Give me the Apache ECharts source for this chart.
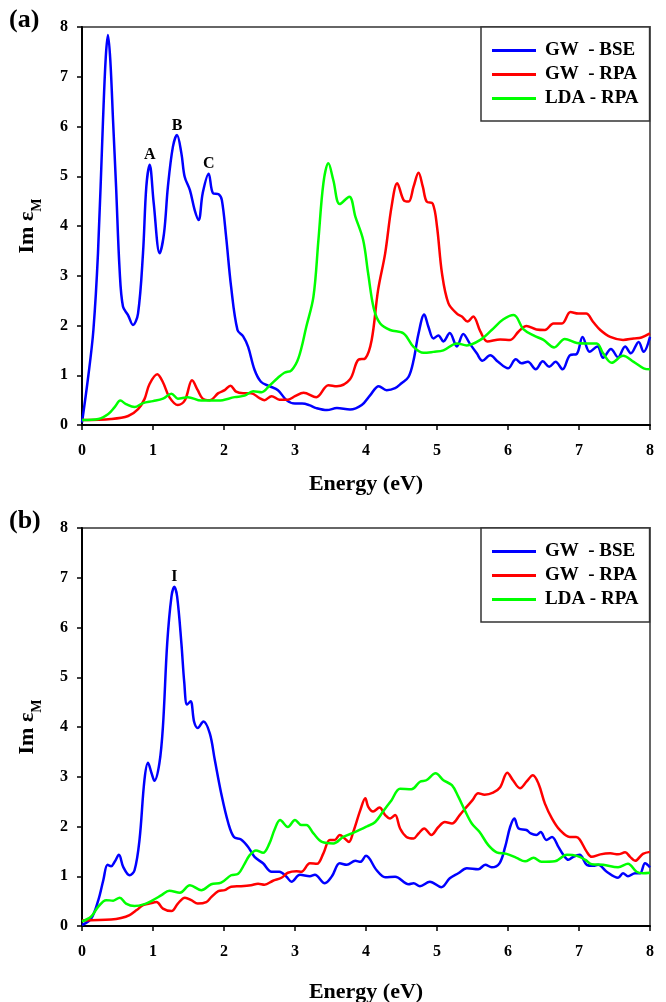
<!DOCTYPE html>
<html>
<head>
<meta charset="utf-8">
<script src="https://cdn.jsdelivr.net/npm/echarts@6/dist/echarts.min.js"></script>
<style>
html,body{margin:0;padding:0;background:#fff;}
#chart{width:666px;height:1002px;}
</style>
</head>
<body>
<div id="chart"></div>
<script>
// ---------- data (Energy in eV, Im eps_M) ----------
const seriesNames = ['GW  - BSE', 'GW  - RPA', 'LDA - RPA'];
const xTicks = [0, 1, 2, 3, 4, 5, 6, 7, 8];
const yTicks = [0, 1, 2, 3, 4, 5, 6, 7, 8];

// panel (a)
const aBse = [[0,0.05],[0.09,1.0],[0.16,1.9],[0.225,3.45],[0.296,6.13],[0.335,7.4],[0.366,7.84],[0.40,7.3],[0.437,6.13],[0.48,4.79],[0.53,3.11],[0.577,2.38],[0.648,2.21],[0.718,2.01],[0.789,2.24],[0.859,3.45],[0.906,4.79],[0.953,5.23],[1.01,4.46],[1.094,3.45],[1.155,3.85],[1.21,4.79],[1.28,5.59],[1.338,5.83],[1.40,5.46],[1.446,4.99],[1.52,4.72],[1.587,4.32],[1.643,4.12],[1.70,4.66],[1.784,5.05],[1.845,4.66],[1.925,4.64],[1.97,4.52],[2.03,3.78],[2.10,2.78],[2.19,1.91],[2.27,1.78],[2.34,1.57],[2.43,1.11],[2.52,0.87],[2.64,0.78],[2.76,0.70],[2.88,0.50],[3.0,0.43],[3.1,0.43],[3.2,0.40],[3.3,0.34],[3.45,0.30],[3.59,0.34],[3.775,0.31],[3.94,0.40],[4.06,0.60],[4.18,0.78],[4.29,0.70],[4.41,0.74],[4.50,0.84],[4.60,0.97],[4.67,1.30],[4.74,1.84],[4.82,2.22],[4.88,1.97],[4.95,1.74],[5.02,1.80],[5.09,1.68],[5.18,1.85],[5.28,1.58],[5.37,1.83],[5.46,1.64],[5.56,1.44],[5.64,1.29],[5.75,1.40],[5.86,1.27],[6.00,1.14],[6.11,1.32],[6.19,1.24],[6.28,1.27],[6.39,1.12],[6.49,1.28],[6.58,1.17],[6.67,1.27],[6.77,1.12],[6.87,1.40],[6.97,1.43],[7.05,1.77],[7.15,1.47],[7.26,1.58],[7.34,1.35],[7.45,1.53],[7.55,1.36],[7.65,1.58],[7.73,1.44],[7.84,1.67],[7.91,1.47],[8.0,1.77]];
const aRpa = [[0,0.1],[0.41,0.12],[0.65,0.18],[0.79,0.32],[0.88,0.52],[0.95,0.82],[1.06,1.02],[1.14,0.86],[1.23,0.56],[1.35,0.40],[1.45,0.50],[1.55,0.90],[1.63,0.70],[1.70,0.53],[1.80,0.50],[1.92,0.64],[2.01,0.70],[2.09,0.79],[2.17,0.67],[2.27,0.64],[2.38,0.64],[2.50,0.54],[2.57,0.50],[2.67,0.58],[2.78,0.51],[2.90,0.51],[3.0,0.58],[3.12,0.65],[3.3,0.56],[3.47,0.80],[3.59,0.78],[3.775,0.92],[3.89,1.31],[3.99,1.34],[4.08,1.71],[4.17,2.71],[4.27,3.45],[4.36,4.39],[4.44,4.86],[4.53,4.52],[4.60,4.49],[4.67,4.79],[4.74,5.07],[4.80,4.79],[4.855,4.49],[4.94,4.45],[5.00,3.99],[5.07,3.05],[5.16,2.45],[5.28,2.24],[5.35,2.18],[5.43,2.08],[5.51,2.18],[5.61,1.88],[5.71,1.68],[5.89,1.72],[6.03,1.71],[6.15,1.88],[6.26,1.99],[6.40,1.92],[6.52,1.91],[6.64,2.04],[6.76,2.04],[6.88,2.27],[6.99,2.24],[7.10,2.24],[7.20,2.07],[7.30,1.91],[7.44,1.77],[7.62,1.71],[7.77,1.74],[7.88,1.76],[8.0,1.84]];
const aLda = [[0,0.1],[0.23,0.12],[0.37,0.22],[0.46,0.36],[0.54,0.49],[0.62,0.42],[0.74,0.36],[0.86,0.44],[1.0,0.48],[1.14,0.53],[1.26,0.63],[1.35,0.53],[1.49,0.56],[1.68,0.49],[1.92,0.49],[2.15,0.56],[2.29,0.59],[2.41,0.68],[2.53,0.66],[2.64,0.79],[2.76,0.95],[2.85,1.05],[2.95,1.10],[3.05,1.35],[3.16,1.98],[3.26,2.58],[3.33,3.72],[3.40,4.86],[3.47,5.26],[3.54,4.92],[3.63,4.44],[3.765,4.59],[3.85,4.19],[3.96,3.72],[4.03,3.05],[4.11,2.34],[4.20,2.04],[4.34,1.91],[4.53,1.84],[4.67,1.57],[4.81,1.45],[4.95,1.47],[5.09,1.50],[5.28,1.64],[5.42,1.60],[5.61,1.71],[5.77,1.91],[5.93,2.12],[6.08,2.21],[6.22,1.92],[6.36,1.80],[6.50,1.71],[6.65,1.56],[6.80,1.73],[6.97,1.65],[7.10,1.64],[7.25,1.64],[7.34,1.44],[7.46,1.25],[7.62,1.39],[7.77,1.27],[7.91,1.14],[8.0,1.12]];

// panel (b)
const bBse = [[0,0.02],[0.13,0.15],[0.23,0.52],[0.30,0.92],[0.36,1.23],[0.41,1.20],[0.46,1.29],[0.52,1.43],[0.58,1.19],[0.67,1.02],[0.74,1.12],[0.81,1.73],[0.88,2.94],[0.93,3.28],[0.98,3.07],[1.02,2.92],[1.09,3.27],[1.14,4.01],[1.20,5.68],[1.26,6.62],[1.30,6.82],[1.34,6.62],[1.40,5.68],[1.44,4.9],[1.48,4.45],[1.53,4.52],[1.58,4.10],[1.63,3.98],[1.71,4.11],[1.80,3.87],[1.87,3.34],[1.96,2.67],[2.06,2.07],[2.14,1.79],[2.24,1.74],[2.34,1.59],[2.43,1.39],[2.55,1.26],[2.67,1.09],[2.78,1.09],[2.88,0.99],[2.95,0.89],[3.07,1.03],[3.21,1.00],[3.28,1.03],[3.42,0.86],[3.52,1.00],[3.63,1.26],[3.73,1.23],[3.85,1.31],[3.92,1.29],[4.00,1.41],[4.15,1.12],[4.27,0.98],[4.41,0.99],[4.60,0.84],[4.67,0.86],[4.76,0.80],[4.90,0.89],[5.06,0.78],[5.18,0.96],[5.30,1.06],[5.42,1.16],[5.58,1.14],[5.68,1.23],[5.77,1.18],[5.88,1.26],[5.96,1.59],[6.03,1.99],[6.09,2.16],[6.15,1.96],[6.26,1.93],[6.32,1.86],[6.40,1.83],[6.46,1.89],[6.54,1.73],[6.62,1.79],[6.71,1.59],[6.78,1.43],[6.85,1.33],[6.92,1.39],[7.01,1.43],[7.11,1.23],[7.20,1.21],[7.27,1.23],[7.39,1.09],[7.55,0.97],[7.62,1.06],[7.69,1.00],[7.79,1.06],[7.86,1.06],[7.93,1.26],[8.0,1.18]];
const bRpa = [[0,0.11],[0.41,0.13],[0.55,0.16],[0.67,0.22],[0.77,0.32],[0.86,0.42],[0.95,0.45],[1.05,0.48],[1.14,0.35],[1.26,0.30],[1.35,0.45],[1.45,0.57],[1.54,0.52],[1.63,0.45],[1.75,0.48],[1.82,0.58],[1.92,0.70],[2.01,0.72],[2.10,0.79],[2.24,0.80],[2.38,0.82],[2.48,0.85],[2.57,0.83],[2.69,0.91],[2.81,0.97],[2.90,1.07],[3.02,1.10],[3.09,1.09],[3.21,1.26],[3.31,1.25],[3.40,1.46],[3.49,1.73],[3.56,1.73],[3.63,1.83],[3.70,1.76],[3.76,1.69],[3.82,1.89],[3.92,2.33],[3.99,2.57],[4.03,2.40],[4.10,2.30],[4.19,2.38],[4.27,2.23],[4.34,2.16],[4.41,2.23],[4.48,1.96],[4.57,1.79],[4.67,1.76],[4.74,1.86],[4.82,1.96],[4.92,1.83],[5.02,1.99],[5.11,2.09],[5.21,2.06],[5.32,2.23],[5.42,2.40],[5.50,2.53],[5.58,2.67],[5.67,2.64],[5.79,2.68],[5.89,2.79],[5.99,3.08],[6.07,2.93],[6.17,2.77],[6.26,2.90],[6.35,3.03],[6.43,2.86],[6.52,2.46],[6.62,2.16],[6.73,1.93],[6.87,1.79],[6.96,1.79],[7.01,1.74],[7.11,1.49],[7.18,1.39],[7.30,1.44],[7.44,1.46],[7.55,1.44],[7.65,1.48],[7.72,1.39],[7.79,1.31],[7.90,1.45],[8.0,1.49]];
const bLda = [[0,0.09],[0.13,0.19],[0.23,0.39],[0.34,0.52],[0.44,0.51],[0.53,0.57],[0.62,0.45],[0.74,0.40],[0.88,0.44],[1.00,0.52],[1.12,0.62],[1.23,0.71],[1.38,0.67],[1.52,0.82],[1.68,0.72],[1.82,0.84],[1.96,0.87],[2.10,1.02],[2.20,1.05],[2.29,1.25],[2.36,1.42],[2.45,1.52],[2.55,1.47],[2.64,1.66],[2.71,1.93],[2.79,2.13],[2.90,1.99],[3.00,2.13],[3.09,2.03],[3.16,2.03],[3.26,1.86],[3.38,1.69],[3.54,1.66],[3.68,1.79],[3.85,1.89],[4.01,2.00],[4.13,2.09],[4.24,2.30],[4.36,2.53],[4.48,2.76],[4.64,2.75],[4.76,2.90],[4.85,2.93],[4.98,3.07],[5.09,2.93],[5.21,2.83],[5.30,2.60],[5.39,2.33],[5.49,2.06],[5.60,1.89],[5.72,1.63],[5.84,1.48],[5.98,1.45],[6.12,1.37],[6.24,1.30],[6.36,1.37],[6.47,1.29],[6.66,1.30],[6.83,1.43],[6.97,1.41],[7.09,1.33],[7.18,1.24],[7.34,1.23],[7.55,1.18],[7.69,1.25],[7.81,1.09],[7.90,1.06],[8.0,1.07]];

// peak annotations
const aPeaks = [{name:'A', coord:[0.953,5.23]},{name:'B', coord:[1.338,5.83]},{name:'C', coord:[1.784,5.05]}];
const bPeaks = [{name:'I', coord:[1.30,6.82]}];

// ---------- chart ----------
const FONT = '"Liberation Serif","Times New Roman",serif';
const colors = ['#0000ff', '#ff0000', '#00ff00'];
const chart = echarts.init(document.getElementById('chart'), null, {renderer:'canvas'});

function xAxisFor(i, gap) {
  return {
    gridIndex: i, type: 'value', min: xTicks[0], max: xTicks[xTicks.length-1], interval: 1,
    axisLine: {show: true, onZero: false, lineStyle: {color: '#000', width: 2}},
    axisTick: {show: true, inside: false, length: 5, lineStyle: {color: '#000', width: 1.5}},
    axisLabel: {fontFamily: FONT, fontWeight: 'bold', fontSize: 16, color: '#000', margin: 18},
    splitLine: {show: false},
    name: 'Energy (eV)', nameLocation: 'middle', nameGap: gap,
    nameTextStyle: {fontFamily: FONT, fontWeight: 'bold', fontSize: 22, color: '#000'}
  };
}
function yAxisFor(i) {
  return {
    gridIndex: i, type: 'value', min: yTicks[0], max: yTicks[yTicks.length-1], interval: 1,
    axisLine: {show: true, onZero: false, lineStyle: {color: '#000', width: 2}},
    axisTick: {show: true, inside: false, length: 5, lineStyle: {color: '#000', width: 1.5}},
    axisLabel: {fontFamily: FONT, fontWeight: 'bold', fontSize: 16, color: '#000', margin: 14},
    splitLine: {show: false},
    name: '{m|Im ε}{s|M}', nameLocation: 'middle', nameGap: 38, nameRotate: 90,
    nameTextStyle: {
      fontFamily: FONT, fontWeight: 'bold', fontSize: 22, color: '#000',
      rich: {
        m: {fontFamily: FONT, fontWeight: 'bold', fontSize: 22, color: '#000', lineHeight: 28, verticalAlign: 'top'},
        s: {fontFamily: FONT, fontWeight: 'bold', fontSize: 14, color: '#000', lineHeight: 14, verticalAlign: 'bottom'}
      }
    }
  };
}
function lineSeries(name, data, idx, color, peaks) {
  const s = {
    name: name, type: 'line', xAxisIndex: idx, yAxisIndex: idx, data: data,
    symbol: 'none', smooth: 0.35, lineStyle: {color: color, width: 2.5}, itemStyle: {color: color},
    z: 3
  };
  if (peaks) {
    s.markPoint = {
      symbol: 'circle', symbolSize: 1, itemStyle: {color: 'rgba(0,0,0,0)'},
      label: {show: true, position: 'top', distance: 1, formatter: '{b}', fontFamily: FONT, fontWeight: 'bold', fontSize: 16, color: '#000'},
      data: peaks
    };
  }
  return s;
}
function legendAt(top) {
  return {
    orient: 'vertical', left: 481, top: top, data: seriesNames,
    icon: 'rect', itemWidth: 44, itemHeight: 3, itemGap: 3,
    padding: [13, 11, 12, 11],
    borderColor: '#333', borderWidth: 1.5, backgroundColor: '#fff',
    textStyle: {fontFamily: FONT, fontWeight: 'bold', fontSize: 19, color: '#000', padding: [0, 0, 0, 4], lineHeight: 21}
  };
}

const option = {
  animation: false,
  backgroundColor: '#fff',
  grid: [
    {left: 82, top: 27, width: 568, height: 398, show: true, borderColor: '#666', borderWidth: 2, backgroundColor: 'transparent', containLabel: false, outerBoundsMode: 'none'},
    {left: 82, top: 528, width: 568, height: 398, show: true, borderColor: '#666', borderWidth: 2, backgroundColor: 'transparent', containLabel: false, outerBoundsMode: 'none'}
  ],
  xAxis: [xAxisFor(0, 48), xAxisFor(1, 55)],
  yAxis: [yAxisFor(0), yAxisFor(1)],
  legend: [legendAt(27), legendAt(528)],
  graphic: [
    {type: 'text', left: 9, top: 7, style: {text: '(a)', font: 'bold 26px ' + FONT, fill: '#000'}},
    {type: 'text', left: 9, top: 508, style: {text: '(b)', font: 'bold 26px ' + FONT, fill: '#000'}}
  ],
  series: [
    lineSeries(seriesNames[0], aBse, 0, colors[0], aPeaks),
    lineSeries(seriesNames[1], aRpa, 0, colors[1]),
    lineSeries(seriesNames[2], aLda, 0, colors[2]),
    lineSeries(seriesNames[0], bBse, 1, colors[0], bPeaks),
    lineSeries(seriesNames[1], bRpa, 1, colors[1]),
    lineSeries(seriesNames[2], bLda, 1, colors[2])
  ]
};
chart.setOption(option);
</script>
</body>
</html>
